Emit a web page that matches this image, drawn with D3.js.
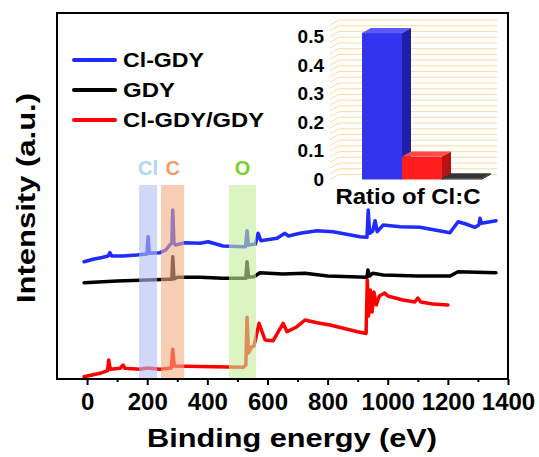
<!DOCTYPE html>
<html>
<head>
<meta charset="utf-8">
<script src="https://cdn.jsdelivr.net/npm/d3@7"></script>
<style>
  body { margin: 0; background: #fff; }
  text { font-family: Arial, "Liberation Sans", sans-serif; font-weight: bold; }
</style>
</head>
<body>
<div id="chart"></div>
<script>
// XPS survey spectra: [binding energy (eV), intensity (a.u.)]
const clGdy = [
  [-10, 117.3], [20, 119.7], [50, 121.5], [70, 123], [76, 126.3], [82, 123], [120, 123],
  [166, 124], [186, 124.7], [199, 125], [203, 142.3], [207, 125.7], [243, 126.3],
  [262, 129], [275, 134], [282, 136], [285, 169], [289, 136], [294, 134], [326, 136.3],
  [376, 135.7], [403, 137.3], [452, 133], [527, 132.3], [532, 148.3], [537, 134],
  [560, 135], [569, 145.7], [578, 138.3], [632, 140.7], [658, 145.7], [670, 143],
  [708, 145.7], [765, 148.3], [818, 147.3], [908, 142.3], [931, 141.7], [935, 169],
  [940, 145.7], [950, 148], [958, 158.3], [965, 147.3], [985, 154], [1041, 152.3],
  [1107, 151.7], [1207, 146.3], [1234, 157.3], [1260, 155], [1290, 151.7],
  [1303, 154], [1307, 160.7], [1312, 155.7], [1360, 158.3]
];
const gdy = [
  [-10, 96.3], [100, 98], [200, 99], [270, 99.7], [282, 99.7], [285, 122.3], [289, 100],
  [300, 101.7], [376, 101.7], [450, 100.7], [528, 100.7], [532, 117.3], [537, 102],
  [555, 102.3], [575, 106.3], [650, 105], [725, 105.7], [800, 103], [931, 101.7],
  [934, 109], [940, 103], [950, 105.7], [985, 104], [1100, 103], [1207, 103],
  [1234, 107.3], [1360, 106.3]
];
const clGdyGdy = [
  [-10, 2.3], [43, 5.7], [68, 8.3], [72, 19], [77, 9.7], [110, 10.7], [120, 14],
  [126, 10.7], [176, 9.7], [200, 11], [243, 9.7], [280, 11], [285, 29.7], [290, 13],
  [376, 12.5], [519, 11.7], [528, 14], [532, 61.7], [537, 26], [548, 32.3], [555, 33],
  [572, 55.7], [592, 39], [619, 38.3], [652, 55.7], [665, 47.3], [698, 52.3],
  [725, 59], [765, 56.3], [808, 54], [900, 47.3], [928, 45.5], [932, 99], [936, 63],
  [942, 89], [948, 67], [954, 87], [962, 74], [972, 83], [990, 86], [1000, 83],
  [1050, 79], [1090, 77], [1100, 81], [1110, 77], [1150, 75], [1200, 74]
];

const seriesNames = ["Cl-GDY", "GDY", "Cl-GDY/GDY"];
const seriesColors = ["#1f2bff", "#000000", "#ff0000"];

// element regions (eV)
const bands = [
  { label: "Cl", from: 173, to: 233, fill: "#b4bef2", text: "#aad8f6" },
  { label: "C", from: 246, to: 323, fill: "#f2ad80", text: "#f29c68" },
  { label: "O", from: 472, to: 562, fill: "#c4ec98", text: "#78d224" }
];

const xTicks = [0, 200, 400, 600, 800, 1000, 1200, 1400];
const xMinorTicks = [100, 300, 500, 700, 900, 1100, 1300];

// inset: ratio of Cl:C
const ratioCats = ["Cl-GDY", "Cl-GDY/GDY", "GDY"];
const ratioVals = [0.512, 0.08, 0.004];
const ratioTicks = [0, 0.1, 0.2, 0.3, 0.4, 0.5];

const W = 539, H = 457;
const svg = d3.select("#chart").append("svg").attr("width", W).attr("height", H);

const plot = { left: 57, top: 13, right: 508, bottom: 379 };
const x = d3.scaleLinear().domain([-100, 1400]).range([plot.left, plot.right]);
const y = d3.scaleLinear().domain([0, 366]).range([plot.bottom, plot.top]);

const line = d3.line().x(d => x(d[0])).y(d => y(d[1]));

// spectra
[clGdy, gdy, clGdyGdy].forEach((s, i) => {
  svg.append("path").datum(s)
    .attr("d", line)
    .attr("fill", "none")
    .attr("stroke", seriesColors[i])
    .attr("stroke-width", 3.5)
    .attr("stroke-linejoin", "round")
    .attr("stroke-linecap", "round");
});

// shaded regions on top of the curves
svg.selectAll(".band").data(bands).join("rect")
  .attr("x", d => x(d.from))
  .attr("width", d => x(d.to) - x(d.from))
  .attr("y", 185)
  .attr("height", plot.bottom - 185)
  .attr("fill", d => d.fill)
  .attr("opacity", 0.6);

svg.selectAll(".bandLabel").data(bands).join("text")
  .attr("x", d => (x(d.from) + x(d.to)) / 2)
  .attr("y", 175)
  .attr("text-anchor", "middle")
  .attr("font-size", 20)
  .attr("fill", d => d.text)
  .text(d => d.label);

// x axis
const axisG = svg.append("g").attr("transform", `translate(0,${plot.bottom})`);
axisG.call(d3.axisBottom(x).tickValues(xTicks).tickSize(6).tickPadding(8).tickFormat(d3.format("d")));
axisG.selectAll("text").attr("font-size", 24).attr("fill", "#000")
  .style("font-family", "Arial, 'Liberation Sans', sans-serif").style("font-weight", "bold");
axisG.select(".domain").remove();
axisG.selectAll("line").attr("stroke-width", 2);
const minorG = svg.append("g").attr("transform", `translate(0,${plot.bottom})`);
minorG.call(d3.axisBottom(x).tickValues(xMinorTicks).tickSize(3).tickFormat(""));
minorG.select(".domain").remove();
minorG.selectAll("line").attr("stroke-width", 2);

// frame
svg.append("rect")
  .attr("x", plot.left).attr("y", plot.top)
  .attr("width", plot.right - plot.left).attr("height", plot.bottom - plot.top)
  .attr("fill", "none").attr("stroke", "#000").attr("stroke-width", 2);

// axis titles
svg.append("text")
  .attr("x", 292).attr("y", 447)
  .attr("text-anchor", "middle")
  .attr("font-size", 26)
  .attr("textLength", 290).attr("lengthAdjust", "spacingAndGlyphs")
  .text("Binding energy (eV)");

svg.append("text")
  .attr("transform", "translate(35,198) rotate(-90)")
  .attr("text-anchor", "middle")
  .attr("font-size", 25)
  .attr("textLength", 210).attr("lengthAdjust", "spacingAndGlyphs")
  .text("Intensity (a.u.)");

// legend
const legendLens = [81, 52, 141];
seriesNames.forEach((name, i) => {
  const ly = 60 + i * 30;
  svg.append("line")
    .attr("x1", 74).attr("x2", 115).attr("y1", ly).attr("y2", ly)
    .attr("stroke", seriesColors[i]).attr("stroke-width", 4).attr("stroke-linecap", "round");
  svg.append("text")
    .attr("x", 123).attr("y", ly + 7)
    .attr("font-size", 21)
    .attr("textLength", legendLens[i]).attr("lengthAdjust", "spacingAndGlyphs")
    .text(name);
});

// inset 3D bar chart
const depthX = 9, depthY = 5;
const xb = d3.scaleBand().domain(ratioCats).range([362, 482]).paddingInner(0);
const yb = d3.scaleLinear().domain([0, 0.5]).range([179.5, 36.5]);
const inset = svg.append("g");

inset.selectAll(".grid").data(d3.range(0, 0.5501, 0.02)).join("polyline")
  .attr("points", d => {
    const gy = yb(d);
    return `330,${gy} ${330 + depthX},${gy - depthY} 497,${gy - depthY}`;
  })
  .attr("fill", "none")
  .attr("stroke", "#f8dba6")
  .attr("stroke-width", 1);

const insetAxis = inset.append("g").attr("transform", "translate(324,0)")
  .call(d3.axisLeft(yb).tickValues(ratioTicks).tickSize(0).tickPadding(0)
    .tickFormat(d => d === 0 ? "0" : d.toFixed(1)));
insetAxis.select(".domain").remove();
insetAxis.selectAll("text").attr("font-size", 19).attr("fill", "#000")
  .style("font-family", "Arial, 'Liberation Sans', sans-serif").style("font-weight", "bold");

const barShades = [
  { front: "#3434ee", side: "#1e1ea6", top: "#5a5aff" },
  { front: "#ff1e1e", side: "#b41414", top: "#ff4a4a" },
  { front: "#111111", side: "#222222", top: "#333333" }
];
ratioCats.forEach((c, i) => {
  const x0 = xb(c), w = xb.bandwidth();
  const y0 = yb(0), y1 = yb(ratioVals[i]);
  const sh = barShades[i];
  inset.append("rect").attr("x", x0).attr("y", y1).attr("width", w)
    .attr("height", Math.max(y0 - y1, 0.5)).attr("fill", sh.front);
  inset.append("polygon")
    .attr("points", `${x0 + w},${y1} ${x0 + w + depthX},${y1 - depthY} ${x0 + w + depthX},${y0 - depthY} ${x0 + w},${y0}`)
    .attr("fill", sh.side);
  inset.append("polygon")
    .attr("points", `${x0},${y1} ${x0 + depthX},${y1 - depthY} ${x0 + w + depthX},${y1 - depthY} ${x0 + w},${y1}`)
    .attr("fill", sh.top);
});

inset.append("text")
  .attr("x", 408).attr("y", 204)
  .attr("text-anchor", "middle")
  .attr("font-size", 22)
  .attr("textLength", 145).attr("lengthAdjust", "spacingAndGlyphs")
  .text("Ratio of Cl:C");
</script>
</body>
</html>
